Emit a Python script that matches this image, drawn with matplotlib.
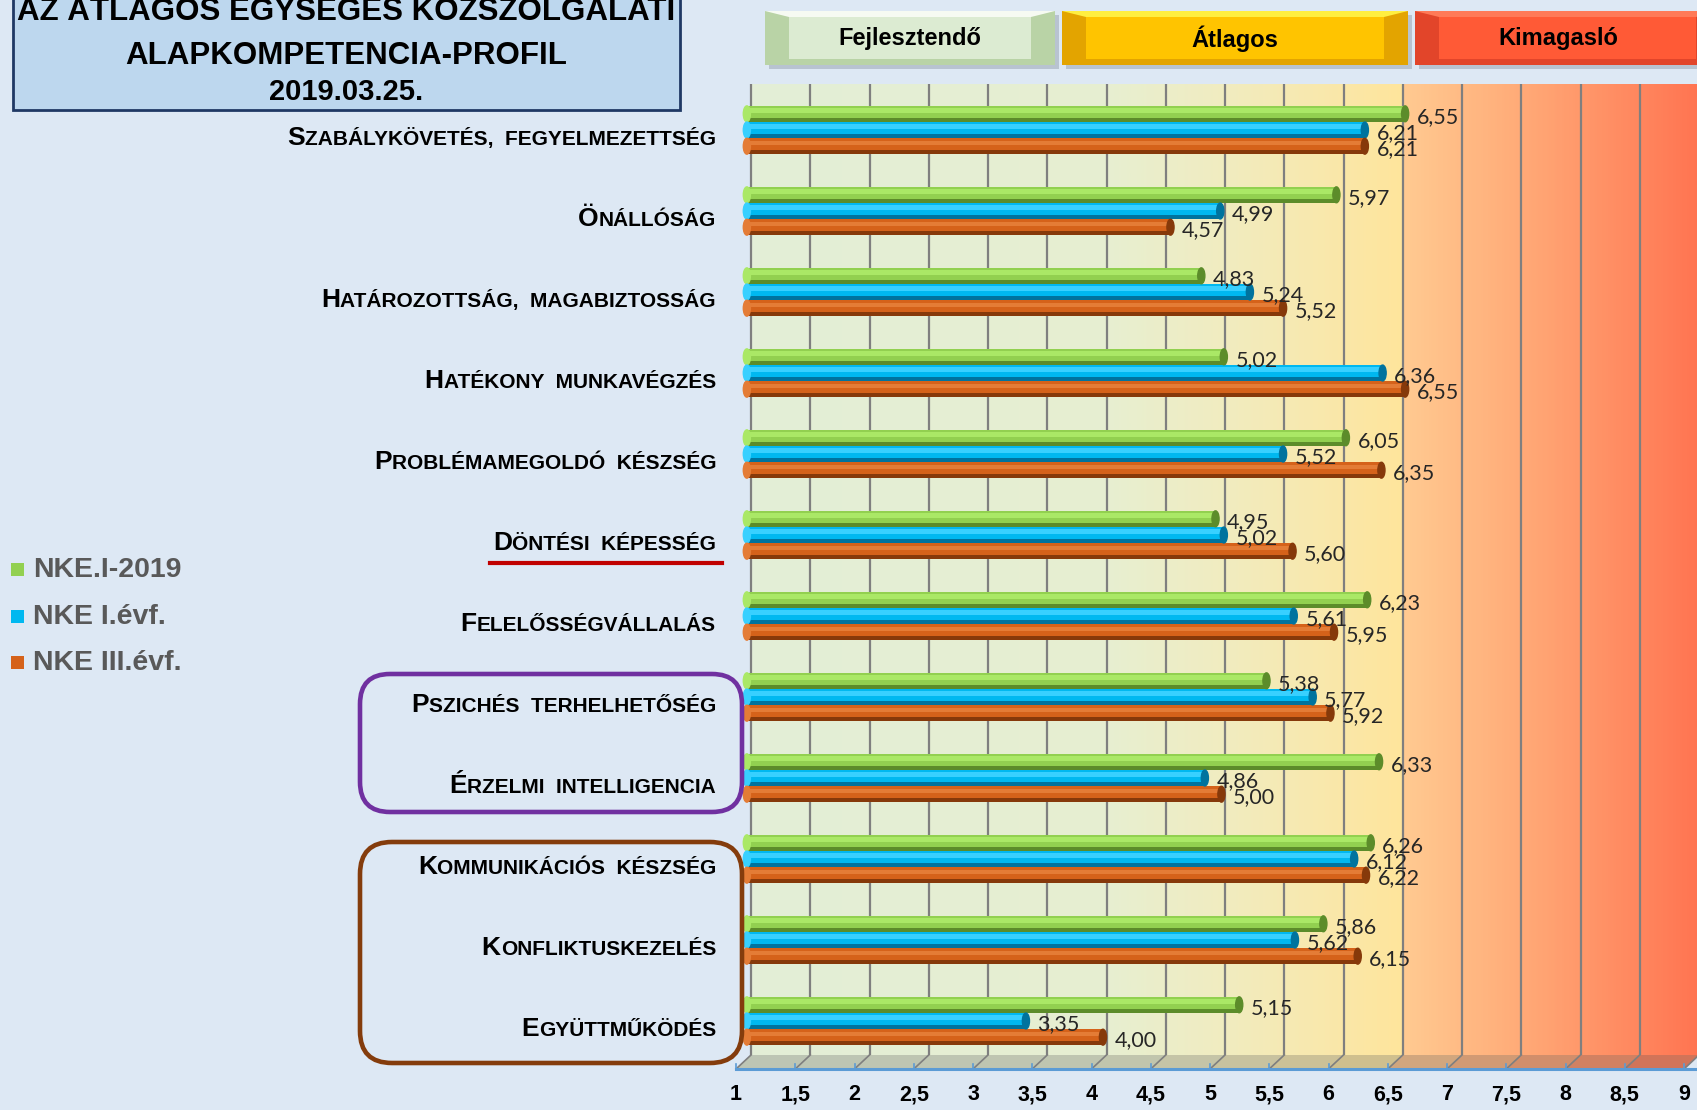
import numpy as np
import matplotlib
matplotlib.use("Agg")
import matplotlib.pyplot as plt
from matplotlib import transforms
from matplotlib.patches import Rectangle, FancyBboxPatch, Polygon, Ellipse
from matplotlib.offsetbox import TextArea, HPacker, AnnotationBbox
from matplotlib.colors import LinearSegmentedColormap

# data
categories = ["Szabálykövetés, fegyelmezettség", "Önállóság",
              "Határozottság, magabiztosság", "Hatékony munkavégzés",
              "Problémamegoldó készség", "Döntési képesség",
              "Felelősségvállalás", "Pszichés terhelhetőség",
              "Érzelmi intelligencia", "Kommunikációs készség",
              "Konfliktuskezelés", "Együttműködés"]
series_names = ["NKE.I-2019", "NKE I.évf.", "NKE III.évf."]
nke_2019 = [6.55, 5.97, 4.83, 5.02, 6.05, 4.95, 6.23, 5.38, 6.33, 6.26, 5.86, 5.15]
nke_1 = [6.21, 4.99, 5.24, 6.36, 5.52, 5.02, 5.61, 5.77, 4.86, 6.12, 5.62, 3.35]
nke_3 = [6.21, 4.57, 5.52, 6.55, 6.35, 5.60, 5.95, 5.92, 5.00, 6.22, 6.15, 4.00]
x_ticks = np.arange(1, 9.01, 0.5)
zones = ["Fejlesztendő", "Átlagos", "Kimagasló"]
title_lines = ["AZ ÁTLAGOS EGYSÉGES KÖZSZOLGÁLATI", "ALAPKOMPETENCIA-PROFIL", "2019.03.25."]

W, H, DPI = 1697, 1110, 100
fig = plt.figure(figsize=(W / DPI, H / DPI), dpi=DPI)
fig.patch.set_facecolor('#dde8f4')

# pixel coordinates measured from the top-left corner
px = transforms.Affine2D().scale(1 / DPI, -1 / DPI).translate(0, H / DPI) + fig.dpi_scale_trans

unit = 118.5
ax_l, ax_t, ax_b = 740, 84, 1055
ax = fig.add_axes([ax_l / W, 1 - ax_b / H, 1 - ax_l / W, (ax_b - ax_t) / H])
ax.set_xlim(1 - (751 - ax_l) / unit, 1 + (W - 751) / unit)
ax.set_ylim(11.42, -0.568)
ax.axis('off')

# back wall gradient
wall = LinearSegmentedColormap.from_list('wall', [
    (0.0, '#e3eed7'), (0.375, '#e7efd1'), (0.5, '#f1ecc0'), (0.6874, '#ffe59c'),
    (0.6876, '#ffcb92'), (0.8125, '#ffab78'), (1.0, '#ff7552')])
grad = np.linspace(0, 1, 400).reshape(1, -1)
ax.imshow(grad, cmap=wall, extent=(1, 9, 11.42, -0.568), aspect='auto', zorder=0)
ax.vlines(x_ticks, -0.568, 11.42, colors='#7f7f7f', lw=1.6, zorder=1)

# bars (fake cylinders)
y = np.arange(len(categories))
bar_h = 0.2
start = 0.965
cap = 0.06
shades = [('#aae866', '#92d050', '#5c8c2a'),
          ('#38d0ff', '#00b8f0', '#00739e'),
          ('#e47c36', '#d5621a', '#86390a')]
offsets = [-0.2, 0.0, 0.2]
lab_tr = ax.transData + transforms.ScaledTranslation(8 / DPI, -3 / DPI, fig.dpi_scale_trans)
for vals, off, (light, mid, dark) in zip([nke_2019, nke_1, nke_3], offsets, shades):
    vals = np.array(vals)
    yy = y + off
    body = vals - cap / 2 - start
    ax.barh(yy, body, left=start, height=bar_h, color=mid, zorder=3)
    ax.barh(yy - bar_h * 0.2, body, left=start, height=bar_h * 0.3, color=light, zorder=4)
    ax.barh(yy + bar_h * 0.38, body, left=start, height=bar_h * 0.24, color=dark, zorder=4)
    for v, yc in zip(vals, yy):
        ax.add_patch(Ellipse((start, yc), cap, bar_h * 0.98, color=light, zorder=5))
        ax.add_patch(Ellipse((v - cap / 2, yc), cap, bar_h * 0.98, color=dark, zorder=5))
        ax.text(v, yc, f"{v:.2f}".replace('.', ','), transform=lab_tr, ha='left', va='center',
                fontsize=15.5, family='Lato', color='#262626', zorder=6)

# floor of the 3D chart
def xpix(v):
    return ax.transData.transform((v, 0))[0]

floor_back, floor_front, shift = 1055, 1069, 15
for a, b in zip(x_ticks[:-1], x_ticks[1:]):
    c = np.array(wall((a - 1) / 8 + 0.03)[:3])
    c = c * 0.72 + np.array([0.55, 0.55, 0.55]) * 0.18
    pts = [(xpix(a), floor_back), (xpix(b), floor_back),
           (xpix(b) - shift, floor_front), (xpix(a) - shift, floor_front)]
    fig.add_artist(Polygon(pts, closed=True, facecolor=np.clip(c, 0, 1), edgecolor='none',
                           transform=px, zorder=1))
for v in x_ticks:
    fig.add_artist(plt.Line2D([xpix(v), xpix(v) - shift], [floor_back, floor_front],
                              color='#7f7f7f', lw=1.2, transform=px))
    fig.add_artist(plt.Line2D([xpix(v) - shift, xpix(v) - shift], [floor_front - 5, floor_front],
                              color='#5b9bd5', lw=1.2, transform=px))
fig.add_artist(plt.Line2D([xpix(1) - shift, W], [floor_front, floor_front],
                          color='#5b9bd5', lw=2.2, transform=px))

tick_tr = transforms.blended_transform_factory(ax.transData, px) + \
    transforms.ScaledTranslation(-shift / DPI, 0, fig.dpi_scale_trans)
for v in x_ticks:
    lab = f"{v:g}".replace('.', ',')
    fig.text(v, 1095, lab, transform=tick_tr, ha='center', va='center',
             fontsize=15.5, fontweight='bold', family='Liberation Sans', color='black')

# category labels in small caps
cat_tr = transforms.blended_transform_factory(px, ax.transData)
for i, name in enumerate(categories):
    big = TextArea(name[0], textprops=dict(fontsize=19, fontweight='bold',
                                           family='Liberation Sans', color='black'))
    rest = TextArea(name[1:].upper().replace(' ', '  '),
                    textprops=dict(fontsize=15, fontweight='bold',
                                   family='Liberation Sans', color='black'))
    pack = HPacker(children=[big, rest], align='baseline', pad=0, sep=0)
    ab = AnnotationBbox(pack, (716, i + 0.1), xycoords=cat_tr, box_alignment=(1, 0.5),
                        frameon=False, pad=0, annotation_clip=False)
    ax.add_artist(ab)

# underline, group boxes
fig.add_artist(plt.Line2D([490, 722], [563, 563], color='#c00000', lw=3, transform=px))
fig.add_artist(FancyBboxPatch((360, 674), 382, 138, boxstyle='round,pad=0,rounding_size=30',
                              facecolor='none', edgecolor='#7030a0', lw=3.3, transform=px))
fig.add_artist(FancyBboxPatch((360, 842), 382, 221, boxstyle='round,pad=0,rounding_size=32',
                              facecolor='none', edgecolor='#843c0c', lw=3.3, transform=px))

# legend
for name, (light, mid, dark), yl in zip(series_names, shades, [570, 617, 663]):
    fig.add_artist(Rectangle((11, yl - 7), 13, 13, facecolor=mid, edgecolor='none', transform=px))
    fig.text(33, yl, name, transform=px, ha='left', va='center', fontsize=20.5,
             fontweight='bold', family='Liberation Sans', color='#595959')

# title box
fig.add_artist(Rectangle((13, -10), 667, 120, facecolor='#bdd7ee', edgecolor='#1f3864',
                         lw=2, transform=px))
for line, yl, fs in zip(title_lines, [12, 56, 92], [22.5, 22.5, 21]):
    fig.text(346, yl, line, transform=px, ha='center', va='center', fontsize=fs,
             fontweight='bold', family='Liberation Sans', color='black')

# zone header boxes
zone_boxes = [(765, 1055, '#dcebd2', '#b9d3a6', '#f6faf2'),
              (1062, 1408, '#ffc400', '#e3a400', '#ffee40'),
              (1415, 1720, '#ff5a36', '#e2452a', '#ff7a58')]
for name, (x0, x1, face, side, top) in zip(zones, zone_boxes):
    y0, y1 = 11, 65
    fig.add_artist(Rectangle((x0 + 4, y0 + 4), x1 - x0, y1 - y0, facecolor='#a9b4c2',
                             edgecolor='none', transform=px, alpha=0.7))
    fig.add_artist(Rectangle((x0, y0), x1 - x0, y1 - y0, facecolor=side, edgecolor='none',
                             transform=px))
    fig.add_artist(Polygon([(x0, y0), (x1, y0), (x1 - 24, y0 + 6), (x0 + 24, y0 + 6)],
                           facecolor=top, edgecolor='none', transform=px))
    fig.add_artist(Rectangle((x0 + 24, y0 + 6), x1 - x0 - 48, y1 - y0 - 12, facecolor=face,
                             edgecolor='none', transform=px))
    xc = (x0 + x1) / 2 if name != 'Kimagasló' else 1558
    fig.text(xc, (y0 + y1) / 2 + 1, name, transform=px, ha='center', va='center', fontsize=17,
             fontweight='bold', family='Liberation Sans', color='black')

fig.savefig('out.png', dpi=DPI, facecolor=fig.get_facecolor())
